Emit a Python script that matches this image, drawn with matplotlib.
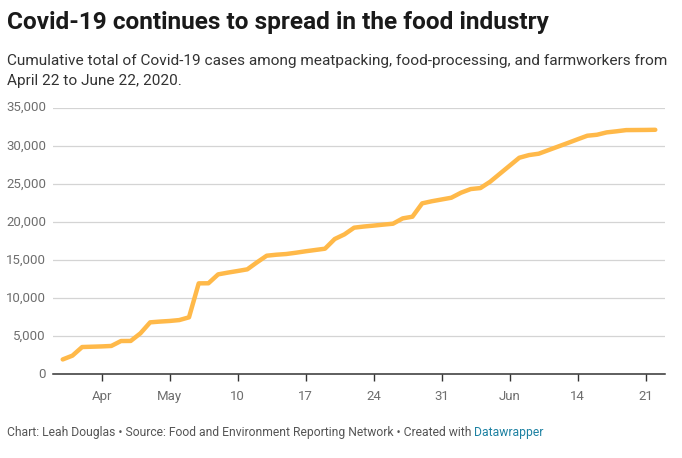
import datetime as dt
import matplotlib
matplotlib.use("Agg")
import matplotlib.pyplot as plt
from matplotlib.ticker import FuncFormatter

# daily cumulative cases, Apr 22 .. Jun 22, 2020
START = dt.date(2020, 4, 22)
CASES = [1950, 2450, 3580, 3620, 3660, 3720, 4370, 4380, 5380,            # Apr 22-30
         6820, 6920, 7000, 7120, 7480, 11940, 11950, 13120, 13350, 13560,
         13780, 14700, 15570, 15700, 15790, 15960, 16150, 16320, 16490,
         17760, 18370, 19250, 19400, 19520, 19650, 19770, 20470, 20690,
         22440, 22720, 22950,                                              # May
         23180, 23840, 24320, 24450, 25280, 26330, 27380, 28430, 28780,
         28960, 29430, 29900, 30370, 30850, 31320, 31450, 31760, 31900,
         32060, 32070, 32080, 32100]                                       # Jun 1-22
DATES = [START + dt.timedelta(days=i) for i in range(len(CASES))]

XTICK_DATES = [dt.date(2020, 4, 26), dt.date(2020, 5, 3), dt.date(2020, 5, 10),
               dt.date(2020, 5, 17), dt.date(2020, 5, 24), dt.date(2020, 5, 31),
               dt.date(2020, 6, 7), dt.date(2020, 6, 14), dt.date(2020, 6, 21)]
XTICK_LABELS = ["Apr", "May", "10", "17", "24", "31", "Jun", "14", "21"]
YTICKS = [0, 5000, 10000, 15000, 20000, 25000, 30000, 35000]

TITLE = "Covid-19 continues to spread in the food industry"
SUBTITLE = ("Cumulative total of Covid-19 cases among meatpacking, food-processing, and farmworkers from\n"
            "April 22 to June 22, 2020.")
FOOTER = "Chart: Leah Douglas \u2022 Source: Food and Environment Reporting Network \u2022 Created with "

W, H = 682, 458
plt.rcParams["font.family"] = ["Roboto", "DejaVu Sans"]


def px(x, y):
    return x / W, 1 - y / H


fig = plt.figure(figsize=(W / 100, H / 100), dpi=100)
l, b = px(53, 374.3)
r, t = px(665, 107.7)
ax = fig.add_axes([l, b, r - l, t - b])

ax.plot(DATES, CASES, color="#ffb949", lw=3.2, solid_joinstyle="round",
        solid_capstyle="round", zorder=3)

ax.set_xlim(dt.date(2020, 4, 21), dt.date(2020, 6, 23))
ax.set_ylim(0, 35000)
ax.set_yticks(YTICKS)
ax.yaxis.set_major_formatter(FuncFormatter(lambda v, p: f"{int(v):,}"))
ax.set_xticks(XTICK_DATES)
ax.set_xticklabels(XTICK_LABELS)

for v in YTICKS[1:]:
    ax.axhline(v, color="#d4d4d4", lw=1.6 if v == 35000 else 0.9, zorder=1)
ax.axhline(0, color="#333333", lw=1.1, zorder=4, clip_on=False)

for s in ax.spines.values():
    s.set_visible(False)
ax.tick_params(axis="y", length=0, pad=5, labelsize=9.5, labelcolor="#6e6e6e")
ax.tick_params(axis="x", length=5, width=1, color="#333333", pad=6,
               labelsize=9.5, labelcolor="#6e6e6e")
for lab in ax.get_yticklabels():
    lab.set_verticalalignment("center")

fig.text(*px(7, 29), TITLE, fontsize=17.6, fontweight="bold", color="#1a1a1a", va="baseline")
fig.text(*px(7, 85), SUBTITLE, fontsize=11.1, color="#333333", va="baseline", linespacing=1.5)
t1 = fig.text(*px(7, 436), FOOTER, fontsize=8.7, color="#555555", va="baseline")
fig.canvas.draw()
bb = t1.get_window_extent()
fig.text(bb.x1 / W, 1 - 436 / H, "Datawrapper", fontsize=8.7, color="#1d81a2", va="baseline")

fig.savefig("out.png", dpi=100)
